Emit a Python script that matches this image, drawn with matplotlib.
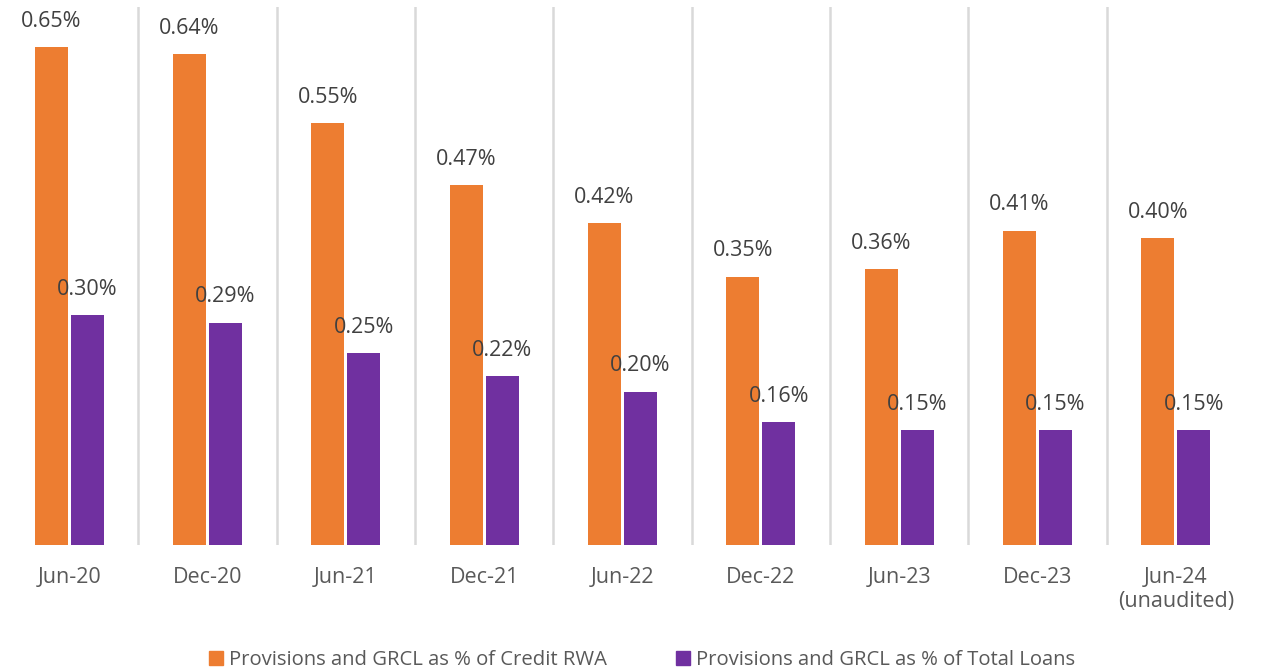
import matplotlib
matplotlib.use("Agg")
import matplotlib.pyplot as plt
from matplotlib.patches import Patch
import numpy as np

categories = ["Jun-20", "Dec-20", "Jun-21", "Dec-21", "Jun-22", "Dec-22", "Jun-23", "Dec-23", "Jun-24\n(unaudited)"]
credit_rwa = [0.65, 0.64, 0.55, 0.47, 0.42, 0.35, 0.36, 0.41, 0.40]
total_loans = [0.30, 0.29, 0.25, 0.22, 0.20, 0.16, 0.15, 0.15, 0.15]
series_names = ["Provisions and GRCL as % of Credit RWA", "Provisions and GRCL as % of Total Loans"]
colors = ["#ED7D31", "#7030A0"]

plt.rcParams['font.family'] = ['Open Sans', 'DejaVu Sans']
text_color = "#595959"

fig = plt.figure(figsize=(12.61, 6.71), dpi=100)
ax = fig.add_axes([0.0, 0.1878, 0.9873, 0.8018])

x = np.arange(len(categories))
w = 0.24
off = 0.13
ax.bar(x - off, credit_rwa, w, color=colors[0])
ax.bar(x + off, total_loans, w, color=colors[1])

for xi, v in zip(x, credit_rwa):
    ax.annotate(f"{v:.2f}%", (xi - off, v), xytext=(0, 11), textcoords="offset points",
                ha="center", va="bottom", fontsize=15.5, color="#404040")
for xi, v in zip(x, total_loans):
    ax.annotate(f"{v:.2f}%", (xi + off, v), xytext=(0, 11), textcoords="offset points",
                ha="center", va="bottom", fontsize=15.5, color="#404040")

for i in range(len(categories) - 1):
    ax.axvline(i + 0.5, ymin=0, ymax=1, color="#d9d9d9", lw=1.8, zorder=0)

ax.set_xlim(-0.5, len(categories) - 0.5)
ax.set_ylim(0, 0.702)
ax.set_yticks([])
ax.set_xticks(x)
ax.set_xticklabels(categories, fontsize=15.5, color=text_color, linespacing=1.15)
ax.tick_params(axis="x", length=0, pad=16)
for s in ax.spines.values():
    s.set_visible(False)

handles = [Patch(color=colors[0]), Patch(color=colors[1])]
fig.legend(handles, series_names, loc="center", bbox_to_anchor=(0.509, 0.016), ncol=2,
           frameon=False, fontsize=14.6, labelcolor=text_color, handlelength=0.7,
           handleheight=0.7, handletextpad=0.3, columnspacing=3.4)

fig.savefig("out.png", dpi=100)
